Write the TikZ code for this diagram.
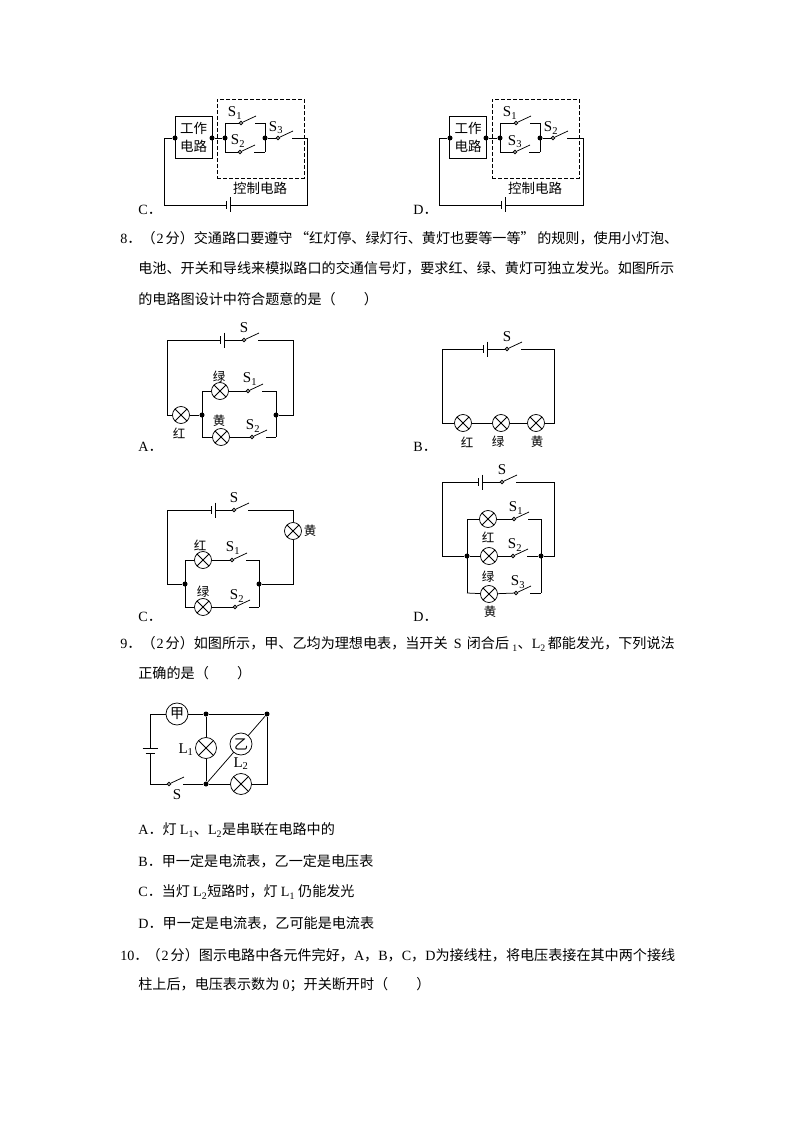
\documentclass[tikz,border=0pt]{standalone}
\usepackage{fontspec}
\setmainfont{Noto Sans CJK SC}
\newfontfamily\ltn{Liberation Serif}
\usetikzlibrary{positioning}
\tikzset{
  lamp bulb/.style={
    circle,
    draw,
    fill=white,
    inner sep=0pt,
    minimum size={#1},
    path picture={
      \draw (path picture bounding box.south west) -- (path picture bounding box.north east);
      \draw (path picture bounding box.north west) -- (path picture bounding box.south east);
    },
  },
  meter/.style={
    circle,
    draw,
    fill=white,
    inner sep=0pt,
    minimum size=22pt,
    font=\fontsize{14}{14}\selectfont,
  },
  wire dot/.style={
    circle,
    fill=black,
    inner sep=0pt,
    minimum size=5pt,
  },
  sw contact/.style={
    circle,
    draw,
    fill=white,
    inner sep=0pt,
    minimum size=3.5pt,
  },
  work box/.style={
    draw,
    align=center,
    inner sep=0pt,
    minimum width=37pt,
    minimum height=42pt,
    font=\fontsize{13.5}{18}\selectfont,
  },
  ctrl box/.style={
    draw,
    dash pattern=on 4pt off 2pt,
    inner sep=0pt,
    minimum width=87pt,
    minimum height=79pt,
  },
  cjk label/.style={
    inner sep=0pt,
    font=\fontsize{12.5}{12.5}\selectfont,
  },
  sw label/.style={
    inner sep=0pt,
    font=\ltn\fontsize{15}{15}\selectfont,
  },
  line text/.style={
    anchor=west,
    inner sep=0pt,
    font=\fontsize{14.1}{14.1}\selectfont,
  },
}
\newcommand{\lab}[1]{{\ltn #1}．}
\newcommand{\pts}{（\hspace{1pt}{\ltn 2}\hspace{2pt}分）}
\newcommand{\makeswitch}[3]{
    \node [sw contact] (#1) at (#2,#3) {};
    \draw (#1) -- ++(15,-7);
    \coordinate (#1 end) at (#2+14,#3);
}
\newcommand{\makebattery}[3]{
    \coordinate (#1 a) at (#2,#3);
    \coordinate (#1 b) at (#2+4.5,#3);
    \draw ([yshift=4pt]#1 a) -- ([yshift=-4pt]#1 a);
    \draw ([yshift=7.5pt]#1 b) -- ([yshift=-7.5pt]#1 b);
}
\begin{document}
\begin{tikzpicture}[x=1pt,y=-1pt,line width=0.75pt]
    \useasboundingbox (0,0) rectangle (794,1123);

    \node [work box] (cbox) at (193.5,137) {工作\\电路};
    \node [ctrl box] (cctrl) at (260.5,138.5) {};
    \node [wire dot] (cd1) at (175,138) {};
    \node [wire dot] (cd2) at (212,138) {};
    \node [wire dot] (cd3) at (225,138) {};
    \node [wire dot] (cd4) at (265,138) {};
    \coordinate (cc1) at (164,138);
    \coordinate (cc2) at (164,205);
    \coordinate (cc3) at (307,205);
    \coordinate (cc4) at (307,138);
    \coordinate (cu1) at (225,123);
    \coordinate (cu2) at (265,123);
    \coordinate (cv1) at (225,152);
    \coordinate (cv2) at (265,152);
    \makebattery{cbat}{226}{205}
    \makeswitch{cs1}{241}{123}
    \makeswitch{cs2}{240}{152}
    \makeswitch{cs3}{278}{138}
    \draw (cd1) -- (cc1) -- (cc2) -- (cbat a);
    \draw (cbat b) -- (cc3) -- (cc4) -- (cs3 end);
    \draw (cd2) -- (cd3);
    \draw (cd4) -- (cs3);
    \draw (cu1) -- (cs1);
    \draw (cs1 end) -- (cu2);
    \draw (cv1) -- (cs2);
    \draw (cs2 end) -- (cv2);
    \draw (cu1) -- (cv1);
    \draw (cu2) -- (cv2);
    \node [sw label] (cl1) at (235,113) {S\textsubscript{1}};
    \node [sw label] (cl2) at (238,141) {S\textsubscript{2}};
    \node [sw label] (cl3) at (276,128) {S\textsubscript{3}};
    \node [cjk label, font=\fontsize{13.5}{13.5}\selectfont] (cl4) at (260,188) {控制电路};
    \node [line text] (copt) at (138,210) {\lab{C}};

    \node [work box] (dbox) at (468,137) {工作\\电路};
    \node [ctrl box] (dctrl) at (535.5,138.5) {};
    \node [wire dot] (dd1) at (450,138) {};
    \node [wire dot] (dd2) at (486,138) {};
    \node [wire dot] (dd3) at (500,138) {};
    \node [wire dot] (dd4) at (540,138) {};
    \coordinate (dc1) at (439,138);
    \coordinate (dc2) at (439,205);
    \coordinate (dc3) at (583,205);
    \coordinate (dc4) at (583,138);
    \coordinate (du1) at (500,123);
    \coordinate (du2) at (540,123);
    \coordinate (dv1) at (500,152);
    \coordinate (dv2) at (540,152);
    \makebattery{dbat}{501}{205}
    \makeswitch{ds1}{516}{123}
    \makeswitch{ds3}{515}{152}
    \makeswitch{ds2}{553}{138}
    \draw (dd1) -- (dc1) -- (dc2) -- (dbat a);
    \draw (dbat b) -- (dc3) -- (dc4) -- (ds2 end);
    \draw (dd2) -- (dd3);
    \draw (dd4) -- (ds2);
    \draw (du1) -- (ds1);
    \draw (ds1 end) -- (du2);
    \draw (dv1) -- (ds3);
    \draw (ds3 end) -- (dv2);
    \draw (du1) -- (dv1);
    \draw (du2) -- (dv2);
    \node [sw label] (dl1) at (510,113) {S\textsubscript{1}};
    \node [sw label] (dl3) at (515,142) {S\textsubscript{3}};
    \node [sw label] (dl2) at (551,128) {S\textsubscript{2}};
    \node [cjk label, font=\fontsize{13.5}{13.5}\selectfont] (dl4) at (535,188) {控制电路};
    \node [line text] (dopt) at (413,210) {\lab{D}};

    \node [line text] (q8a) at (120,238) {\lab{8}\pts 交通路口要遵守\hspace{2.5pt}“红灯停、绿灯行、黄灯也要等一等”\hspace{2.5pt}的规则，使用小灯泡、};
    \node [line text] (q8b) at (138,268) {电池、开关和导线来模拟路口的交通信号灯，要求红、绿、黄灯可独立发光。如图所示};
    \node [line text] (q8c) at (138,299) {的电路图设计中符合题意的是（\hspace{2em}）};

    \coordinate (ac1) at (167,340);
    \coordinate (ac2) at (167,415);
    \coordinate (ac3) at (293,340);
    \coordinate (ac4) at (293,415);
    \coordinate (au1) at (202,391);
    \coordinate (au2) at (276,391);
    \coordinate (av1) at (202,437);
    \coordinate (av2) at (276,437);
    \makebattery{abat}{220}{340}
    \makeswitch{as0}{244}{340}
    \makeswitch{as1}{248}{391}
    \makeswitch{as2}{252}{437}
    \node [lamp bulb=17pt] (ared) at (181,415) {};
    \node [lamp bulb=17pt] (agrn) at (220,391) {};
    \node [lamp bulb=17pt] (ayel) at (221,437) {};
    \node [wire dot] (ad1) at (202,415) {};
    \node [wire dot] (ad2) at (276,415) {};
    \draw (ared) -- (ac2) -- (ac1) -- (abat a);
    \draw (abat b) -- (as0);
    \draw (as0 end) -- (ac3) -- (ac4) -- (ad2);
    \draw (ared) -- (ad1);
    \draw (au1) -- (av1);
    \draw (au2) -- (av2);
    \draw (au1) -- (agrn);
    \draw (agrn) -- (as1);
    \draw (as1 end) -- (au2);
    \draw (av1) -- (ayel);
    \draw (ayel) -- (as2);
    \draw (as2 end) -- (av2);
    \node [sw label] (al0) at (244,328) {S};
    \node [sw label] (al1) at (250,379) {S\textsubscript{1}};
    \node [sw label] (al2) at (253,426) {S\textsubscript{2}};
    \node [cjk label] (al3) at (219,377) {绿};
    \node [cjk label] (al4) at (219,421) {黄};
    \node [cjk label] (al5) at (179,433) {红};
    \node [line text] (aopt) at (138,447) {\lab{A}};

    \coordinate (bc1) at (442,349);
    \coordinate (bc2) at (442,423);
    \coordinate (bc3) at (554,349);
    \coordinate (bc4) at (554,423);
    \makebattery{bbat}{483}{349}
    \makeswitch{bs0}{507}{349}
    \node [lamp bulb=17pt] (bred) at (463,423) {};
    \node [lamp bulb=17pt] (bgrn) at (501,423) {};
    \node [lamp bulb=17pt] (byel) at (536,423) {};
    \draw (bred) -- (bc2) -- (bc1) -- (bbat a);
    \draw (bbat b) -- (bs0);
    \draw (bs0 end) -- (bc3) -- (bc4) -- (byel);
    \draw (bred) -- (bgrn);
    \draw (bgrn) -- (byel);
    \node [sw label] (bl0) at (507,337) {S};
    \node [cjk label] (bl1) at (467,442) {红};
    \node [cjk label] (bl2) at (498,442) {绿};
    \node [cjk label] (bl3) at (537,442) {黄};
    \node [line text] (bopt) at (413,447) {\lab{B}};

    \coordinate (cc5) at (167,510);
    \coordinate (cc6) at (167,584);
    \coordinate (cc7) at (293,510);
    \coordinate (cc8) at (293,584);
    \coordinate (cp1) at (185,560);
    \coordinate (cp2) at (259,560);
    \coordinate (cq1) at (185,607);
    \coordinate (cq2) at (259,607);
    \makebattery{cbtt}{211}{510}
    \makeswitch{cw0}{234}{510}
    \makeswitch{cw1}{232}{560}
    \makeswitch{cw2}{235}{607}
    \node [lamp bulb=17pt] (cyel) at (293,531) {};
    \node [lamp bulb=17pt] (cred) at (203,560) {};
    \node [lamp bulb=17pt] (cgrn) at (203,607) {};
    \node [wire dot] (cj1) at (185,584) {};
    \node [wire dot] (cj2) at (259,584) {};
    \draw (cj1) -- (cc6) -- (cc5) -- (cbtt a);
    \draw (cbtt b) -- (cw0);
    \draw (cw0 end) -- (cc7) -- (cyel);
    \draw (cyel) -- (cc8) -- (cj2);
    \draw (cp1) -- (cq1);
    \draw (cp2) -- (cq2);
    \draw (cp1) -- (cred);
    \draw (cred) -- (cw1);
    \draw (cw1 end) -- (cp2);
    \draw (cq1) -- (cgrn);
    \draw (cgrn) -- (cw2);
    \draw (cw2 end) -- (cq2);
    \node [sw label] (cm0) at (234,498) {S};
    \node [sw label] (cm1) at (233,548) {S\textsubscript{1}};
    \node [sw label] (cm2) at (237,596) {S\textsubscript{2}};
    \node [cjk label] (cm3) at (310,531) {黄};
    \node [cjk label] (cm4) at (200,545) {红};
    \node [cjk label] (cm5) at (203,592) {绿};
    \node [line text] (copt2) at (138,617) {\lab{C}};

    \coordinate (dc5) at (442,482);
    \coordinate (dc6) at (442,556);
    \coordinate (dc7) at (554,482);
    \coordinate (dc8) at (554,556);
    \coordinate (dp1) at (467,519);
    \coordinate (dp2) at (541,519);
    \coordinate (dq1) at (467,593);
    \coordinate (dq2) at (541,593);
    \makebattery{dbtt}{478}{482}
    \makeswitch{dw0}{502}{482}
    \makeswitch{dw1}{514}{519}
    \makeswitch{dw2}{513}{556}
    \makeswitch{dw3}{516}{593}
    \node [lamp bulb=17pt] (dred) at (488,519) {};
    \node [lamp bulb=17pt] (dgrn) at (489,556) {};
    \node [lamp bulb=17pt] (dyel) at (489,594) {};
    \node [wire dot] (dj1) at (467,556) {};
    \node [wire dot] (dj2) at (541,556) {};
    \draw (dj1) -- (dc6) -- (dc5) -- (dbtt a);
    \draw (dbtt b) -- (dw0);
    \draw (dw0 end) -- (dc7) -- (dc8) -- (dj2);
    \draw (dp1) -- (dq1);
    \draw (dp2) -- (dq2);
    \draw (dp1) -- (dred);
    \draw (dred) -- (dw1);
    \draw (dw1 end) -- (dp2);
    \draw (dj1) -- (dgrn);
    \draw (dgrn) -- (dw2);
    \draw (dw2 end) -- (dj2);
    \draw (dq1) -- (dyel);
    \draw (dyel) -- (dw3);
    \draw (dw3 end) -- (dq2);
    \node [sw label] (dm0) at (502,470) {S};
    \node [sw label] (dm1) at (516,508) {S\textsubscript{1}};
    \node [sw label] (dm2) at (515,545) {S\textsubscript{2}};
    \node [sw label] (dm3) at (518,582) {S\textsubscript{3}};
    \node [cjk label] (dm4) at (488,537) {红};
    \node [cjk label] (dm5) at (488,577) {绿};
    \node [cjk label] (dm6) at (490,612) {黄};
    \node [line text] (dopt2) at (413,617) {\lab{D}};

    \node [line text] (q9a) at (120,644) {\lab{9}\pts 如图所示，甲、乙均为理想电表，当开关\hspace{3pt} {\ltn S} \hspace{2pt}闭合后 {\ltn\textsubscript{1}}、{\ltn L\textsubscript{2}}\hspace{2pt}都能发光，下列说法};
    \node [line text] (q9b) at (138,673) {正确的是（\hspace{2em}）};

    \coordinate (ec1) at (150,714);
    \coordinate (ec2) at (150,784);
    \coordinate (ec3) at (267,784);
    \coordinate (eb1) at (150,748);
    \coordinate (eb2) at (150,753);
    \node [meter] (ejia) at (177,714) {甲};
    \node [wire dot] (ej1) at (206,714) {};
    \node [wire dot] (ej2) at (267,714) {};
    \node [wire dot] (ej3) at (206,784) {};
    \node [lamp bulb=21pt] (el1) at (206,748) {};
    \node [lamp bulb=21pt] (el2) at (241,784) {};
    \makeswitch{es0}{169}{784}
    \draw ([xshift=-7.5pt]eb1) -- ([xshift=7.5pt]eb1);
    \draw ([xshift=-4.5pt]eb2) -- ([xshift=4.5pt]eb2);
    \draw (ejia) -- (ec1) -- (eb1);
    \draw (eb2) -- (ec2) -- (es0);
    \draw (es0 end) -- (ej3);
    \draw (ejia) -- (ej1);
    \draw (ej1) -- (ej2);
    \draw (ej1) -- (el1);
    \draw (el1) -- (ej3);
    \draw (ej3) -- (el2);
    \draw (el2) -- (ec3) -- (ej2);
    \draw (ej3) -- (ej2);
    \node [meter] (eyi) at (241,744) {乙};
    \node [sw label] (en1) at (186,750) {L\textsubscript{1}};
    \node [sw label] (en2) at (241,764) {L\textsubscript{2}};
    \node [sw label] (en3) at (177,795) {S};

    \node [line text] (o1) at (138,830) {\lab{A}灯 {\ltn L\textsubscript{1}}、{\ltn L\textsubscript{2}}是串联在电路中的};
    \node [line text] (o2) at (138,861) {\lab{B}甲一定是电流表，乙一定是电压表};
    \node [line text] (o3) at (138,892) {\lab{C}当灯 {\ltn L\textsubscript{2}}短路时，灯 {\ltn L\textsubscript{1}} 仍能发光};
    \node [line text] (o4) at (138,923) {\lab{D}甲一定是电流表，乙可能是电流表};

    \node [line text] (q10a) at (120,955) {\lab{10}\hspace{-2pt}\pts 图示电路中各元件完好，{\ltn A}，{\ltn B}，{\ltn C}，{\ltn D}为接线柱，将电压表接在其中两个接线};
    \node [line text] (q10b) at (138,985) {柱上后，电压表示数为 {\ltn 0}；开关断开时（\hspace{2em}）};
\end{tikzpicture}
\end{document}
